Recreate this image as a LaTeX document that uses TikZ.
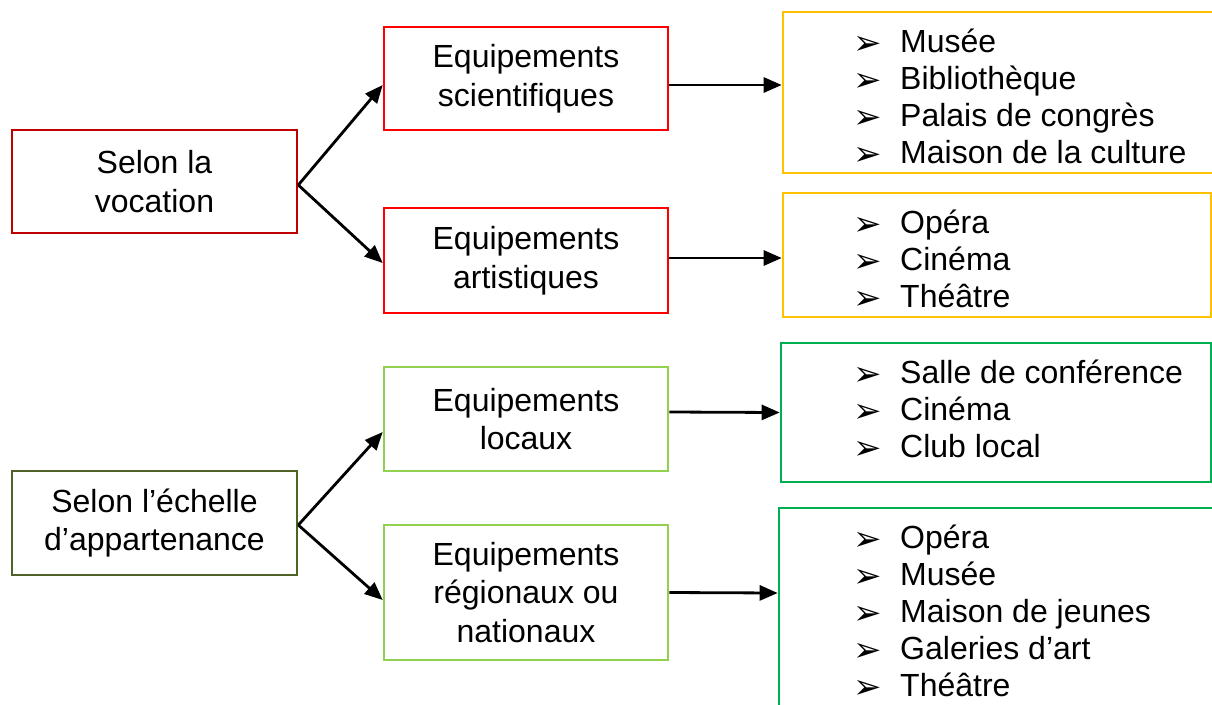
\documentclass[tikz,border=0pt]{standalone}
\usepackage{fontspec}
\setmainfont{Liberation Sans}
\newfontfamily\dingfont{DejaVu Sans}
\usetikzlibrary{arrows.meta}

\definecolor{catred}{HTML}{C00000}
\definecolor{subred}{HTML}{FF0000}
\definecolor{catgreen}{HTML}{4F6228}
\definecolor{subgreen}{HTML}{92D050}
\definecolor{listyellow}{HTML}{FFC000}
\definecolor{listgreen}{HTML}{00B050}

\newcommand{\bul}{\makebox[47pt][l]{\raisebox{-2pt}{\dingfont\fontsize{34}{34}\selectfont ➢}}}

\tikzset{
  labelbox/.style={draw, line width=2.6pt, inner sep=0pt, align=center,
    font=\fontsize{32}{38.5}\selectfont},
  listbox/.style={draw, line width=2.6pt, inner sep=0pt},
  listtext/.style={anchor=west, inner sep=0pt, align=left,
    font=\fontsize{32}{37}\selectfont},
  arr/.style={line width=2.8pt, -{Triangle[length=18pt,width=15pt]}}
}

\begin{document}
\begin{tikzpicture}[x=1pt,y=-1pt]
\useasboundingbox (0,0) rectangle (1212,704);
\clip (0,0) rectangle (1212,704);

% category boxes
\node[labelbox, draw=catred, minimum width=285, minimum height=103] (A) at (154.5,181.5) {Selon la\\vocation};
\node[labelbox, draw=catgreen, minimum width=285, minimum height=104] (B) at (154.5,523) {Selon l’échelle\\d’appartenance};

% sub-categories
\node[labelbox, draw=subred, minimum width=284, minimum height=103] (sci) at (526,78.5) {Equipements\\scientifiques};
\node[labelbox, draw=subred, minimum width=284, minimum height=105] (art) at (526,260.5) {Equipements\\artistiques};
\node[labelbox, draw=subgreen, minimum width=284, minimum height=104] (loc) at (526,419) {Equipements\\locaux};
\node[labelbox, draw=subgreen, minimum width=284, minimum height=135] (reg) at (526,592.5) {Equipements\\régionaux ou\\nationaux};

% list frames
\node[listbox, draw=listyellow, minimum width=442, minimum height=161] (l1) at (1004,92.5) {};
\node[listbox, draw=listyellow, minimum width=428, minimum height=124] (l2) at (997,255) {};
\node[listbox, draw=listgreen, minimum width=430, minimum height=139] (l3) at (996,412.5) {};
\node[listbox, draw=listgreen, minimum width=446, minimum height=252] (l4) at (1002,634) {};

% list contents
\node[listtext] (t1) at (853,100.5) {\bul Musée\strut\\\bul Bibliothèque\strut\\\bul Palais de congrès\strut\\\bul Maison de la culture\strut};
\node[listtext] (t2) at (853,263) {\bul Opéra\strut\\\bul Cinéma\strut\\\bul Théâtre\strut};
\node[listtext] (t3) at (853,413) {\bul Salle de conférence\strut\\\bul Cinéma\strut\\\bul Club local\strut};
\node[listtext] (t4) at (853,615) {\bul Opéra\strut\\\bul Musée\strut\\\bul Maison de jeunes\strut\\\bul Galeries d’art\strut\\\bul Théâtre\strut};

% branching arrows
\draw[arr] ([yshift=-3.5pt]A.east) -- ([yshift=-6.5pt]sci.west);
\draw[arr] ([yshift=-3.5pt]A.east) -- ([yshift=-2.5pt]art.west);
\draw[arr] ([yshift=-2pt]B.east) -- ([yshift=-13pt]loc.west);
\draw[arr] ([yshift=-2pt]B.east) -- ([yshift=-7.5pt]reg.west);

% arrows to the lists
\draw[arr] ([yshift=-6.5pt]sci.east) -- ([yshift=7.5pt]l1.west);
\draw[arr] ([yshift=2.5pt]art.east) -- ([yshift=-3pt]l2.west);
\draw[arr] ([yshift=7pt]loc.east) -- (l3.west);
\draw[arr] (reg.east) -- ([yshift=41pt]l4.west);
\end{tikzpicture}
\end{document}
